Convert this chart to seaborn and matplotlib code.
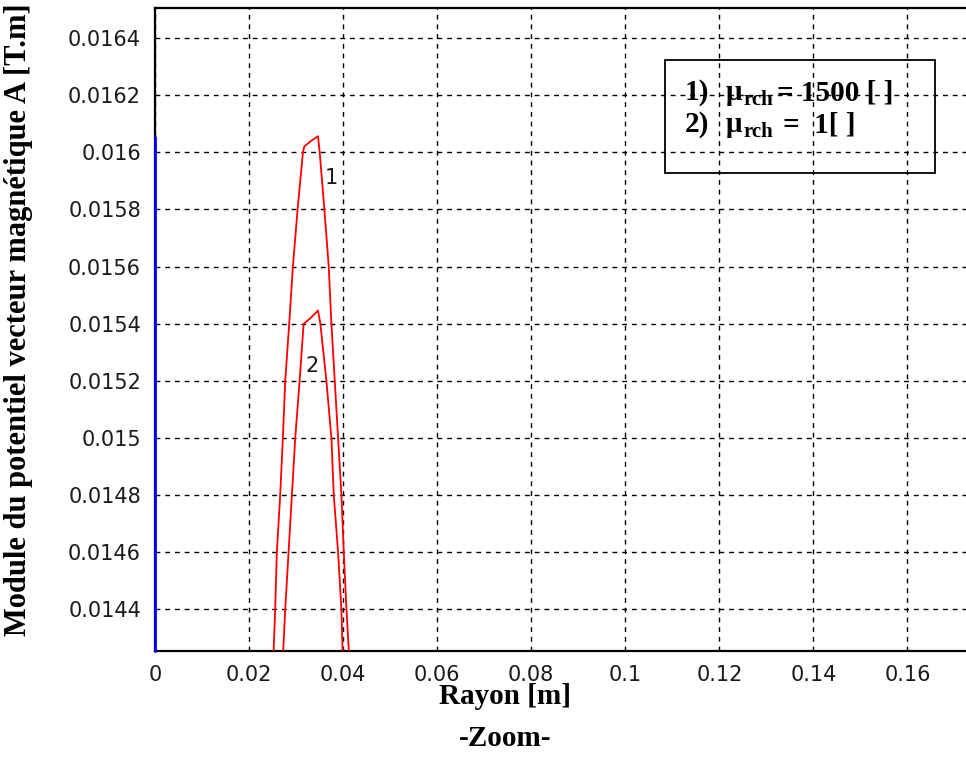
import matplotlib
matplotlib.use("Agg")
import matplotlib.pyplot as plt
import matplotlib.patches as mpatches
import seaborn as sns
import pandas as pd

# ---- data ----
curve1_x = [0.0251, 0.02555, 0.02591, 0.02662, 0.02719, 0.02769, 0.02854, 0.02932,
            0.03032, 0.03146, 0.03174, 0.0332, 0.03466, 0.03502, 0.03601, 0.03694,
            0.03751, 0.03822, 0.03893, 0.03964, 0.04014, 0.04071, 0.04140]
curve1_y = [0.01420, 0.01440, 0.01460, 0.01480, 0.01500, 0.01520, 0.01540, 0.01560,
            0.01580, 0.01600, 0.01602, 0.01604, 0.016056, 0.01600, 0.01580, 0.01560,
            0.01540, 0.01520, 0.01500, 0.01480, 0.01460, 0.01440, 0.01420]

curve2_x = [0.0271, 0.02769, 0.02840, 0.02911, 0.02982, 0.03075, 0.03160, 0.0331,
            0.03466, 0.03516, 0.03644, 0.03751, 0.03801, 0.03893, 0.03964, 0.03998]
curve2_y = [0.01420, 0.01440, 0.01460, 0.01480, 0.01500, 0.01520, 0.015399, 0.01542,
            0.015446, 0.01540, 0.01520, 0.01500, 0.01480, 0.01460, 0.01440, 0.01420]

blue_x = [0.0, 0.0]
blue_y = [0.014255, 0.016053]

x_ticks = [0, 0.02, 0.04, 0.06, 0.08, 0.10, 0.12, 0.14, 0.16]
x_tick_labels = ["0", "0.02", "0.04", "0.06", "0.08", "0.1", "0.12", "0.14", "0.16"]
y_ticks = [0.0144, 0.0146, 0.0148, 0.0150, 0.0152, 0.0154, 0.0156, 0.0158, 0.0160, 0.0162, 0.0164]
y_tick_labels = ["0.0144", "0.0146", "0.0148", "0.015", "0.0152", "0.0154", "0.0156",
                 "0.0158", "0.016", "0.0162", "0.0164"]

x_label = "Rayon [m]"
y_label = "Module du potentiel vecteur magnétique A [T.m]"
caption = "-Zoom-"
curve_labels = ["1", "2"]
legend_values = ["= 1500 [ ]", "=  1[ ]"]

# ---- figure ----
sns.set_style("white")
plt.rcParams["font.family"] = ["DejaVu Sans"]
plt.rcParams["text.color"] = "black"

W, H = 966, 759
fig = plt.figure(figsize=(W / 100, H / 100), dpi=100)
ax = fig.add_axes([155 / W, 1 - 650.7 / H, (W - 155) / W + 0.01, (650.7 - 8) / H])

df1 = pd.DataFrame({"x": curve1_x, "y": curve1_y})
df2 = pd.DataFrame({"x": curve2_x, "y": curve2_y})
dfb = pd.DataFrame({"x": blue_x, "y": blue_y})

sns.lineplot(data=df1, x="x", y="y", sort=False, estimator=None, color="#ff0000", lw=1.3, ax=ax, zorder=4)
sns.lineplot(data=df2, x="x", y="y", sort=False, estimator=None, color="#ff0000", lw=1.3, ax=ax, zorder=4)
sns.lineplot(data=dfb, x="x", y="y", sort=False, estimator=None, color="#0000ff", lw=2.0, ax=ax, zorder=6)
ax.lines[-1].set_clip_on(False)

ax.set_xlim(0, 0.1745)
ax.set_ylim(0.014255, 0.016505)
ax.set_xticks(x_ticks)
ax.set_xticklabels(x_tick_labels)
ax.set_yticks(y_ticks)
ax.set_yticklabels(y_tick_labels)
ax.tick_params(axis="both", direction="in", length=5, width=1, colors="black",
               labelsize=15, pad=10, labelcolor="#1a1a1a")
ax.grid(True, color="black", linestyle=(0, (3.5, 3.5)), linewidth=1.0)
for s in ax.spines.values():
    s.set_color("black")
    s.set_linewidth(1.6)
ax.set_xlabel("")
ax.set_ylabel("")

# curve annotations
ax.text(0.0375, 0.01591, curve_labels[0], fontsize=15, color="#1a1a1a", ha="center", va="center")
ax.text(0.0334, 0.015252, curve_labels[1], fontsize=15, color="#1a1a1a", ha="center", va="center")

serif = ["Liberation Serif", "DejaVu Serif"]
fig.text(505 / W, 1 - 697 / H, x_label, family=serif, fontweight="bold", fontsize=21,
         ha="center", va="center", color="black")
fig.text(505 / W, 1 - 738 / H, caption, family=serif, fontweight="bold", fontsize=21,
         ha="center", va="center", color="black")
fig.text(19 / W, 1 - 320 / H, y_label, family=serif, fontweight="bold", fontsize=22,
         rotation=90, ha="center", va="center", color="black")

# legend box
rect = mpatches.Rectangle((665 / W, 1 - 173 / H), 270 / W, 113 / H, transform=fig.transFigure,
                          fill=False, edgecolor="black", lw=1.3, zorder=10)
fig.patches.append(rect)
for i, (by, val, vx) in enumerate([(100, legend_values[0], 777), (132, legend_values[1], 783)]):
    fig.text(685 / W, 1 - by / H, f"{i + 1})", family=serif, fontweight="bold", fontsize=21,
             ha="left", va="baseline", color="black")
    fig.text(726 / W, 1 - by / H, "μ", family=serif, fontweight="bold", fontsize=21,
             ha="left", va="baseline", color="black")
    fig.text(744 / W, 1 - (by + 5) / H, "rch", family=serif, fontweight="bold", fontsize=15,
             ha="left", va="baseline", color="black")
    fig.text(vx / W, 1 - by / H, val, family=serif, fontweight="bold", fontsize=21,
             ha="left", va="baseline", color="black")

fig.savefig("out.png", dpi=100)
